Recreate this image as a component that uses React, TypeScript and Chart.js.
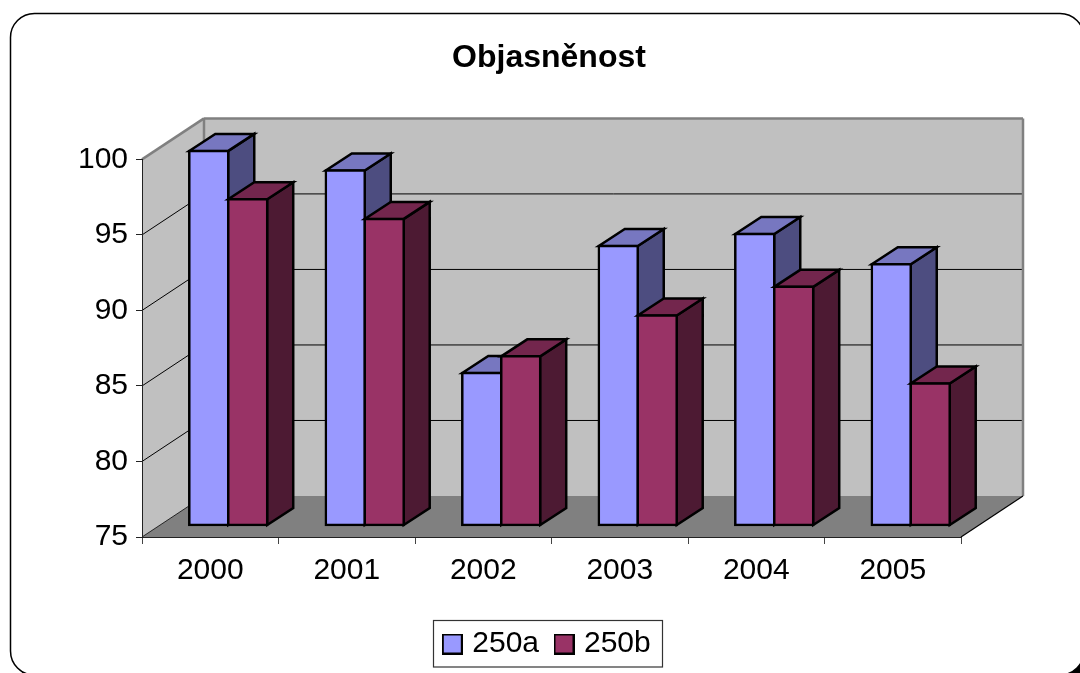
import React, { useEffect, useRef } from "react";
import { Chart, registerables } from "chart.js";

Chart.register(...registerables);

const categories = ["2000", "2001", "2002", "2003", "2004", "2005"];
const series250a = [99.8, 98.5, 85.1, 93.5, 94.3, 92.3];
const series250b = [96.6, 95.3, 86.2, 88.9, 90.8, 84.4];
const seriesNames = ["250a", "250b"];
const yTicks = [75, 80, 85, 90, 95, 100];
const titleText = "Objasněnost";
const axisMin = 75;

const FONT = "'Liberation Sans', Arial, sans-serif";
const FRONT = ["#9999FF", "#993366"];
const TOP = ["#7777C0", "#73264D"];
const SIDE = ["#4D4D80", "#4D1A33"];

// 3D projection (pixels)
const WALL_DX = 62, WALL_DY = -41;
const BAR_OFF_X = 18, BAR_OFF_Y = -11.5;
const BAR_DX = 26, BAR_DY = -17;
const BAR_LINE = 2.5;

function poly(ctx: CanvasRenderingContext2D, pts: number[][], fill?: string, stroke?: string, lw = 1) {
  ctx.beginPath();
  pts.forEach((p, i) => (i ? ctx.lineTo(p[0], p[1]) : ctx.moveTo(p[0], p[1])));
  ctx.closePath();
  if (fill) { ctx.fillStyle = fill; ctx.fill(); }
  if (stroke) { ctx.strokeStyle = stroke; ctx.lineWidth = lw; ctx.stroke(); }
}
function line(ctx: CanvasRenderingContext2D, x1: number, y1: number, x2: number, y2: number, c: string, lw: number) {
  ctx.beginPath(); ctx.moveTo(x1, y1); ctx.lineTo(x2, y2);
  ctx.strokeStyle = c; ctx.lineWidth = lw; ctx.stroke();
}

const scenePlugin = {
  id: "scene",
  beforeDraw(chart: any) {
    const ctx: CanvasRenderingContext2D = chart.ctx;
    const { left: L, right: R, top: T, bottom: B } = chart.chartArea;
    const dx = WALL_DX, dy = WALL_DY;
    ctx.save();
    // frame
    ctx.fillStyle = "#fff";
    ctx.fillRect(0, 0, chart.width, chart.height);
    ctx.beginPath(); ctx.roundRect(14.5, 17.5, 1073.5, 661.5, 24); ctx.fillStyle = "#000"; ctx.fill();
    ctx.beginPath(); ctx.roundRect(10.5, 13.5, 1073.5, 661.5, 24);
    ctx.fillStyle = "#fff"; ctx.fill(); ctx.strokeStyle = "#000"; ctx.lineWidth = 1.5; ctx.stroke();
    // walls
    poly(ctx, [[L + dx, T + dy], [R + dx, T + dy], [R + dx, B + dy], [L + dx, B + dy]], "#C0C0C0");
    poly(ctx, [[L, T], [L + dx, T + dy], [L + dx, B + dy], [L, B]], "#C0C0C0");
    poly(ctx, [[L, B], [L + dx, B + dy], [R + dx, B + dy], [R, B]], "#808080");
    // grid
    const y = chart.scales.y;
    yTicks.forEach((v) => {
      if (v === 75 || v === 100) return;
      const p = y.getPixelForValue(v);
      line(ctx, L, p, L + dx, p + dy, "#000", 1);
      line(ctx, L + dx, p + dy, R + dx, p + dy, "#000", 1);
    });
    // edges
    line(ctx, L, T, L + dx, T + dy, "#808080", 2.5);
    line(ctx, L + dx, T + dy, R + dx, T + dy, "#808080", 2.5);
    line(ctx, R + dx, T + dy, R + dx, B + dy, "#808080", 2.5);
    line(ctx, L + dx, T + dy, L + dx, B + dy, "#808080", 2.5);
    line(ctx, L, B, L + dx, B + dy, "#000", 0.8);
    line(ctx, R, B, R + dx, B + dy, "#000", 1.2);
    // legend box
    ctx.strokeStyle = "#333";
    ctx.lineWidth = 1.2;
    ctx.strokeRect(433.5, 620.5, 229, 46.5);
    ctx.restore();
  },
  // Bars are painted series by series, first series first, each with its own 3D faces.
  beforeDatasetsDraw(chart: any) {
    const ctx: CanvasRenderingContext2D = chart.ctx;
    [0, 1].forEach((i) => {
      const meta = chart.getDatasetMeta(i);
      ctx.save();
      ctx.translate(BAR_OFF_X, BAR_OFF_Y);
      ctx.lineJoin = "miter";
      meta.data.forEach((el: any) => {
        const { x, y, base, width } = el.getProps(["x", "y", "base", "width"], true);
        const l = x - width / 2, r = x + width / 2;
        poly(ctx, [[r, y], [r + BAR_DX, y + BAR_DY], [r + BAR_DX, base + BAR_DY], [r, base]], SIDE[i], "#000", BAR_LINE);
        poly(ctx, [[l, y], [r, y], [r + BAR_DX, y + BAR_DY], [l + BAR_DX, y + BAR_DY]], TOP[i], "#000", BAR_LINE);
      });
      meta.controller.draw();
      ctx.restore();
    });
    return false;
  },
};

function swatch(color: string) {
  const c = document.createElement("canvas");
  c.width = 21; c.height = 21;
  const g = c.getContext("2d")!;
  g.fillStyle = "#000"; g.fillRect(0, 0, 21, 21);
  g.fillStyle = color; g.fillRect(2, 2, 17, 17);
  return c;
}

export default function App() {
  const ref = useRef<HTMLCanvasElement>(null);
  useEffect(() => {
    const swatches = FRONT.map(swatch);
    const chart = new Chart(ref.current!, {
      type: "bar",
      data: {
        labels: categories,
        datasets: [
          { label: seriesNames[0], data: series250a, backgroundColor: FRONT[0], base: axisMin },
          { label: seriesNames[1], data: series250b, backgroundColor: FRONT[1], base: axisMin },
        ],
      },
      options: {
        responsive: false,
        animation: false,
        devicePixelRatio: 1,
        layout: { padding: { left: 18, right: 0, top: 0, bottom: 4 } },
        datasets: {
          bar: {
            categoryPercentage: 0.571,
            barPercentage: 1,
            borderColor: "#000",
            borderWidth: BAR_LINE,
            borderSkipped: false,
            inflateAmount: BAR_LINE / 2,
          },
        },
        plugins: {
          tooltip: { enabled: false },
          title: {
            display: true,
            text: titleText,
            color: "#000",
            font: { family: FONT, size: 32, weight: "bold", lineHeight: 1.2 },
            padding: { top: 39, bottom: 82 },
          },
          legend: {
            position: "bottom",
            onClick: () => {},
            labels: {
              color: "#000",
              font: { family: FONT, size: 30 },
              usePointStyle: true,
              pointStyleWidth: 10,
              boxHeight: 21,
              padding: 20,
              generateLabels: () =>
                seriesNames.map((name, i) => ({
                  text: name,
                  fillStyle: FRONT[i],
                  strokeStyle: "#000",
                  lineWidth: 0,
                  pointStyle: swatches[i],
                  datasetIndex: i,
                  hidden: false,
                })),
            },
          },
        },
        scales: {
          x: {
            grid: { drawOnChartArea: false, drawTicks: true, tickLength: 7, color: "#444", offset: true },
            border: { color: "#222", width: 1 },
            ticks: { color: "#000", font: { family: FONT, size: 30 }, padding: 9, maxRotation: 0 },
            afterFit: (s: any) => { s.height = 72; },
          },
          y: {
            min: 75,
            max: 100,
            grid: { drawOnChartArea: false, drawTicks: true, tickLength: 6, color: "#222" },
            border: { color: "#222", width: 1 },
            ticks: { color: "#000", font: { family: FONT, size: 30 }, padding: 8, stepSize: 5 },
            afterFit: (s: any) => { s.width = 124; },
          },
          yr: {
            type: "linear",
            position: "right",
            grid: { display: false },
            border: { display: false },
            ticks: { display: false },
            afterFit: (s: any) => { s.width = 119; },
          },
        },
      } as any,
      plugins: [scenePlugin],
    });
    return () => chart.destroy();
  }, []);
  return (
    <div style={{ position: "fixed", left: 0, top: 0, width: 1080, height: 673, overflow: "hidden", background: "#fff" }}>
      <canvas ref={ref} width={1080} height={673} style={{ display: "block" }} />
    </div>
  );
}
